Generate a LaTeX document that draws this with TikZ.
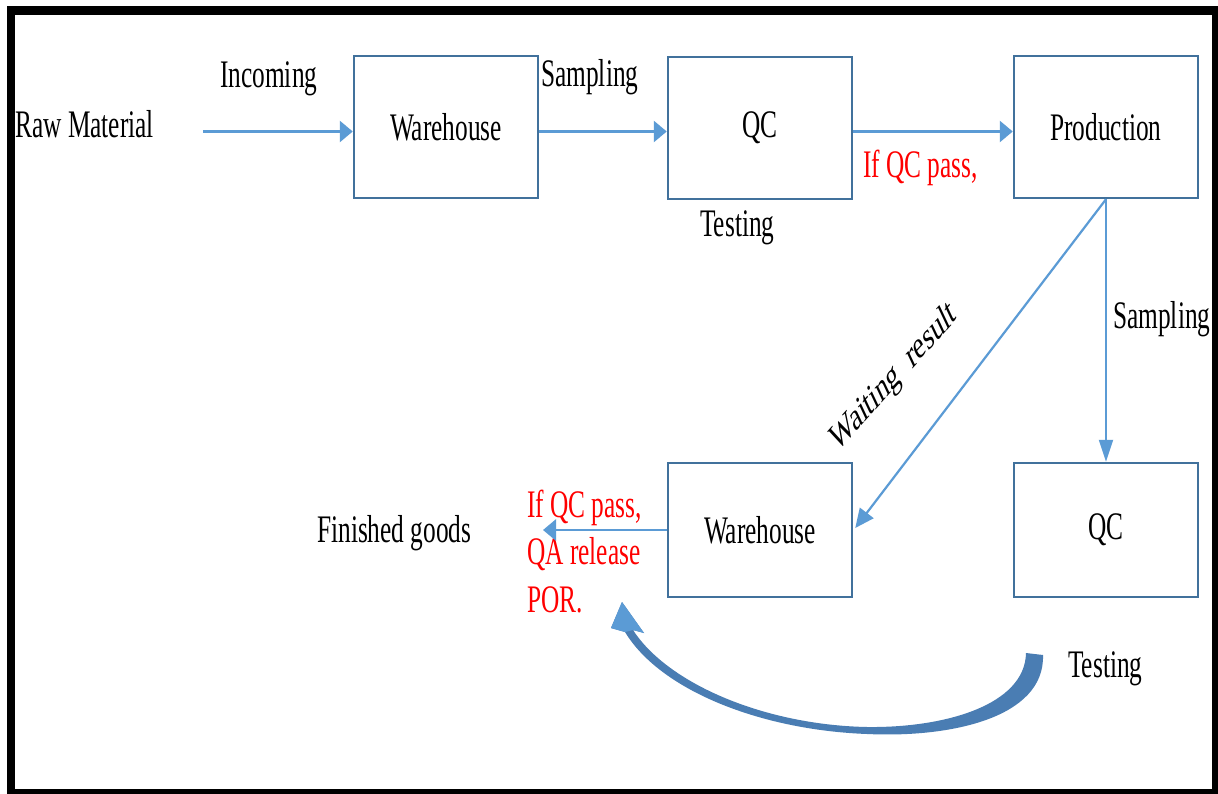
\documentclass[tikz,border=0pt]{standalone}
\usepackage{fontspec}
\setmainfont{Liberation Serif}
\usepackage{graphicx}
\usetikzlibrary{arrows.meta}
\definecolor{boxblue}{HTML}{41719C}
\definecolor{arrblue}{HTML}{5B9BD5}
\definecolor{curveblue}{HTML}{4A7DB3}
\newcommand\sq[1]{\scalebox{0.65}[1]{#1}}
\tikzset{
  procbox/.style={draw=boxblue, line width=2.5pt, minimum width=184pt, minimum height=142pt, inner sep=0pt, font=\fontsize{39}{47}\selectfont},
  lbl/.style={inner sep=0pt, font=\fontsize{39}{47.5}\selectfont},
  redlbl/.style={lbl, text=red},
  arrh/.style={draw=arrblue, line width=2.8pt, -{Triangle[length=13pt,width=21pt]}},
  arrv/.style={draw=arrblue, line width=2pt, -{Triangle[length=22pt,width=14pt]}},
  arrd/.style={draw=arrblue, line width=2.2pt, -{Triangle[length=19pt,width=17pt]}},
}
\begin{document}
\begin{tikzpicture}[x=1pt,y=-1pt]
\useasboundingbox (0,0) rectangle (1218,794);
\fill[white] (0,0) rectangle (1218,794);
% outer frame
\draw[black, line width=8.5pt] (11,10.5) rectangle (1216,793);

% boxes
\node[procbox] (w1) at (446,127) {\sq{Warehouse}};
\node[procbox] (qc1) at (760,128) {\sq{QC}};
\node[procbox] (prod) at (1106,127) {\sq{Production}};
\node[procbox, minimum height=134pt] (w2) at (760,530) {\sq{Warehouse}};
\node[procbox, minimum height=134pt] (qc2) at (1106,530) {\sq{QC}};

% labels
\node[lbl, anchor=base west] (raw) at (15,138) {\sq{Raw Material}};
\node[lbl, anchor=base west] (inc) at (220,88) {\sq{Incoming}};
\node[lbl, anchor=base west] (samp1) at (541,87) {\sq{Sampling}};
\node[lbl, anchor=base west] (test1) at (700,237) {\sq{Testing}};
\node[redlbl, anchor=base west] (pass1) at (863,178) {\sq{If QC pass,}};
\node[lbl, anchor=base west] (samp2) at (1113,328) {\sq{Sampling}};
\node[lbl] (wait) at (894,378) {\scalebox{0.65}[1]{\rotatebox{36}{Waiting\hspace{0.25em} result}}};
\node[lbl, anchor=base west] (fg) at (317,542) {\sq{Finished goods}};
\node[redlbl, anchor=base west, align=left] (pass2) at (527,612) {\sq{If QC pass,}\\\sq{QA release}\\\sq{POR.}};
\node[lbl, anchor=base west] (test2) at (1068,677) {\sq{Testing}};

% connectors
\coordinate (a1s) at (203,131.5);
\coordinate (row) at (0,131.5);
\draw[arrh] (a1s) -- (a1s -| w1.west);
\draw[arrh] (row -| w1.east) -- (row -| qc1.west);
\draw[arrh] (row -| qc1.east) -- (row -| prod.west);
\draw[arrv] (prod.south) -- (qc2.north);
\draw[arrd] (prod.south) -- ([xshift=2pt,yshift=2pt]w2.east);
\coordinate (fgend) at (543,530);
\draw[arrh] (w2.west) -- (fgend);

% curved block arrow
\fill[curveblue]
  (1043,655) .. controls (1045,718) and (950,738) .. (867,734)
  .. controls (760,730) and (660,690) .. (625,632)
  -- (611,628) -- (622,602) -- (644,633) -- (633,630)
  .. controls (668,684) and (765,725) .. (867,727)
  .. controls (945,728) and (1025,705) .. (1026,653) -- cycle;
\fill[arrblue] (625,632) -- (611,628) -- (622,602) -- (644,633) -- (633,630) -- cycle;
\end{tikzpicture}
\end{document}
